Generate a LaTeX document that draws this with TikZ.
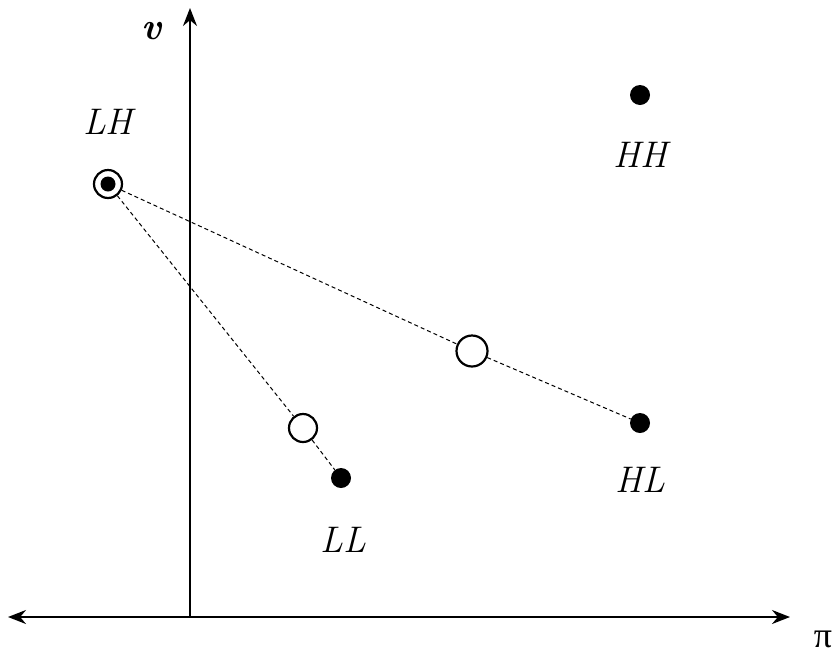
\documentclass[tikz,border=0pt]{standalone}
\usepackage{fontspec}
\newfontfamily\grk{Liberation Serif}
\usetikzlibrary{arrows.meta}
\begin{document}
\begin{tikzpicture}[x=1pt,y=-1pt,
  axis/.style={line width=1.8pt,{Stealth[length=18pt,width=14pt]}-{Stealth[length=18pt,width=14pt]}},
  uparrow/.style={line width=1.8pt,-{Stealth[length=18pt,width=14pt]}},
  dot/.style={circle,fill=black,inner sep=0pt,minimum size=20pt},
  hollow/.style={circle,draw=black,line width=2.2pt,fill=white,inner sep=0pt,minimum size=30pt},
  lbl/.style={font=\fontsize{37}{40}\selectfont\itshape,inner sep=0pt},
  conn/.style={line width=1pt,dash pattern=on 4pt off 3pt}]
\useasboundingbox (0,0) rectangle (840,654);
\coordinate (xl) at (8,617);
\coordinate (xr) at (790,617);
\coordinate (yb) at (190,617);
\coordinate (yt) at (190,8);
\draw[axis] (xl) -- (xr);
\draw[uparrow] (yb) -- (yt);
\node[font=\fontsize{38}{42}\selectfont\bfseries\itshape,inner sep=0pt] (v) at (152,31) {v};
\node[font=\grk\fontsize{36}{40}\selectfont,inner sep=0pt] (pi) at (823,639) {π};
% points
\node[dot] (HH) at (640,95) {};
\node[dot] (HL) at (640,423) {};
\node[dot] (LL) at (341,478) {};
\node[hollow,minimum size=28pt] (LH) at (108,184) {};
\node[dot,minimum size=15pt] (LHin) at (108,184) {};
\node[hollow,minimum size=28pt] (M1) at (303,428) {};
\node[hollow,minimum size=31pt] (M2) at (472,351) {};
% connectors
\draw[conn] (LH) -- (M2);
\draw[conn] (M2) -- (HL);
\draw[conn] (LH) -- (M1);
\draw[conn] (M1) -- (LL);
% labels
\node[lbl] (tLH) at (108,122) {LH};
\node[lbl] (tHH) at (640,155) {HH};
\node[lbl] (tHL) at (640,480) {HL};
\node[lbl] (tLL) at (343,540) {LL};
\end{tikzpicture}
\end{document}
